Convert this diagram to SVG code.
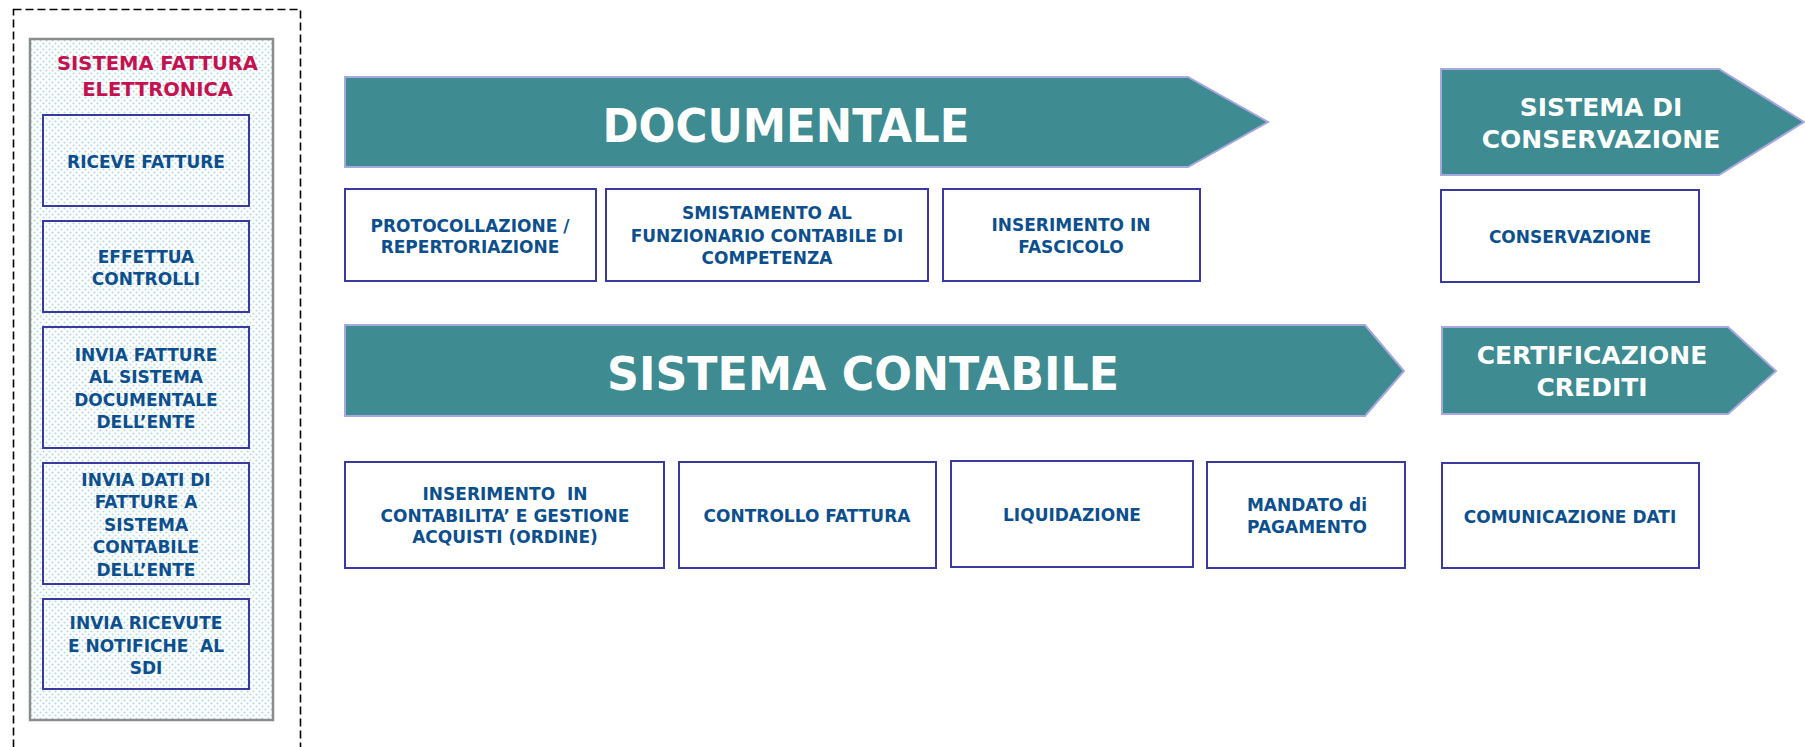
<svg xmlns="http://www.w3.org/2000/svg" width="1805" height="747" viewBox="0 0 1805 747">
<defs>
<pattern id="dots" x="0" y="0" width="6" height="6" patternUnits="userSpaceOnUse">
<rect width="6" height="6" fill="#ffffff"/>
<circle cx="1.5" cy="1.5" r="1.1" fill="#b4dbe4"/>
<circle cx="4.5" cy="4.5" r="1.1" fill="#b4dbe4"/>
</pattern>
<style>
.box{fill:#ffffff;stroke:#3a3a9e;stroke-width:2}
.lbox{fill:none;stroke:#3a3a9e;stroke-width:2}
.arr{fill:#3e8b91;stroke:#a8a8e0;stroke-width:2}
.t{font-family:"DejaVu Sans","Liberation Sans",sans-serif;font-weight:bold;font-size:17px;fill:#0c4f8c;text-anchor:middle;white-space:pre}
.big{font-family:"DejaVu Sans","Liberation Sans",sans-serif;font-weight:bold;font-size:46px;fill:#ffffff;text-anchor:middle}
.mid{font-family:"DejaVu Sans","Liberation Sans",sans-serif;font-weight:bold;font-size:25px;fill:#ffffff;text-anchor:middle}
.title{font-family:"DejaVu Sans","Liberation Sans",sans-serif;font-weight:bold;font-size:19.5px;fill:#c41250;text-anchor:middle}
</style>
</defs>
<rect width="1805" height="747" fill="#ffffff"/>

<g id="frame">
<rect x="13.5" y="9.5" width="287" height="760" fill="none" stroke="#000000" stroke-width="1.6" stroke-dasharray="8,4"/>
</g>

<g id="sistema-fattura">
<rect x="30" y="39" width="243" height="681" fill="url(#dots)" stroke="#8c8c8c" stroke-width="2.5"/>
<text class="title" x="157.5" y="70">SISTEMA FATTURA</text>
<text class="title" x="157.5" y="96">ELETTRONICA</text>
</g>

<g id="riceve">
<rect class="lbox" x="43" y="115" width="206" height="91"/>
<text class="t" x="146" y="168">RICEVE FATTURE</text>
</g>
<g id="effettua">
<rect class="lbox" x="43" y="221" width="206" height="91"/>
<text class="t" x="146" y="263">EFFETTUA</text>
<text class="t" x="146" y="285">CONTROLLI</text>
</g>
<g id="invia-fatture">
<rect class="lbox" x="43" y="327" width="206" height="121"/>
<text class="t" x="146" y="361">INVIA FATTURE</text>
<text class="t" x="146" y="383">AL SISTEMA</text>
<text class="t" x="146" y="406">DOCUMENTALE</text>
<text class="t" x="146" y="428">DELL’ENTE</text>
</g>
<g id="invia-dati">
<rect class="lbox" x="43" y="463" width="206" height="121"/>
<text class="t" x="146" y="486">INVIA DATI DI</text>
<text class="t" x="146" y="508">FATTURE A</text>
<text class="t" x="146" y="531">SISTEMA</text>
<text class="t" x="146" y="553">CONTABILE</text>
<text class="t" x="146" y="576">DELL’ENTE</text>
</g>
<g id="invia-ricevute">
<rect class="lbox" x="43" y="599" width="206" height="90"/>
<text class="t" x="146" y="629">INVIA RICEVUTE</text>
<text class="t" x="146" y="652">E NOTIFICHE  AL</text>
<text class="t" x="146" y="674">SDI</text>
</g>

<g id="documentale">
<polygon class="arr" points="345,77 1188,77 1268,122 1188,167 345,167"/>
<text class="big" x="786" y="142" textLength="367" lengthAdjust="spacingAndGlyphs">DOCUMENTALE</text>
</g>
<g id="sistema-conservazione">
<polygon class="arr" points="1441,69 1719,69 1804,122 1719,175 1441,175"/>
<text class="mid" x="1601" y="116">SISTEMA DI</text>
<text class="mid" x="1601" y="148">CONSERVAZIONE</text>
</g>
<g id="sistema-contabile">
<polygon class="arr" points="345,325 1365,325 1404,371 1365,416 345,416"/>
<text class="big" x="863" y="390" textLength="512" lengthAdjust="spacingAndGlyphs">SISTEMA CONTABILE</text>
</g>
<g id="certificazione">
<polygon class="arr" points="1442,327 1728,327 1776,371 1728,414 1442,414"/>
<text class="mid" x="1592" y="364">CERTIFICAZIONE</text>
<text class="mid" x="1592" y="396">CREDITI</text>
</g>

<g id="protocollazione">
<rect class="box" x="345" y="189" width="251" height="92"/>
<text class="t" x="470" y="232">PROTOCOLLAZIONE /</text>
<text class="t" x="470" y="253">REPERTORIAZIONE</text>
</g>
<g id="smistamento">
<rect class="box" x="606" y="189" width="322" height="92"/>
<text class="t" x="767" y="219">SMISTAMENTO AL</text>
<text class="t" x="767" y="242">FUNZIONARIO CONTABILE DI</text>
<text class="t" x="767" y="264">COMPETENZA</text>
</g>
<g id="fascicolo">
<rect class="box" x="943" y="189" width="257" height="92"/>
<text class="t" x="1071" y="231">INSERIMENTO IN</text>
<text class="t" x="1071" y="253">FASCICOLO</text>
</g>
<g id="conservazione">
<rect class="box" x="1441" y="190" width="258" height="92"/>
<text class="t" x="1570" y="243">CONSERVAZIONE</text>
</g>

<g id="inserimento-contabilita">
<rect class="box" x="345" y="462" width="319" height="106"/>
<text class="t" x="505" y="500">INSERIMENTO  IN</text>
<text class="t" x="505" y="522">CONTABILITA’ E GESTIONE</text>
<text class="t" x="505" y="543">ACQUISTI (ORDINE)</text>
</g>
<g id="controllo-fattura">
<rect class="box" x="679" y="462" width="257" height="106"/>
<text class="t" x="807" y="522">CONTROLLO FATTURA</text>
</g>
<g id="liquidazione">
<rect class="box" x="951" y="461" width="242" height="106"/>
<text class="t" x="1072" y="521">LIQUIDAZIONE</text>
</g>
<g id="mandato">
<rect class="box" x="1207" y="462" width="198" height="106"/>
<text class="t" x="1307" y="511">MANDATO di</text>
<text class="t" x="1307" y="533">PAGAMENTO</text>
</g>
<g id="comunicazione">
<rect class="box" x="1442" y="463" width="257" height="105"/>
<text class="t" x="1570" y="523">COMUNICAZIONE DATI</text>
</g>

<g id="connectors"></g>
</svg>
